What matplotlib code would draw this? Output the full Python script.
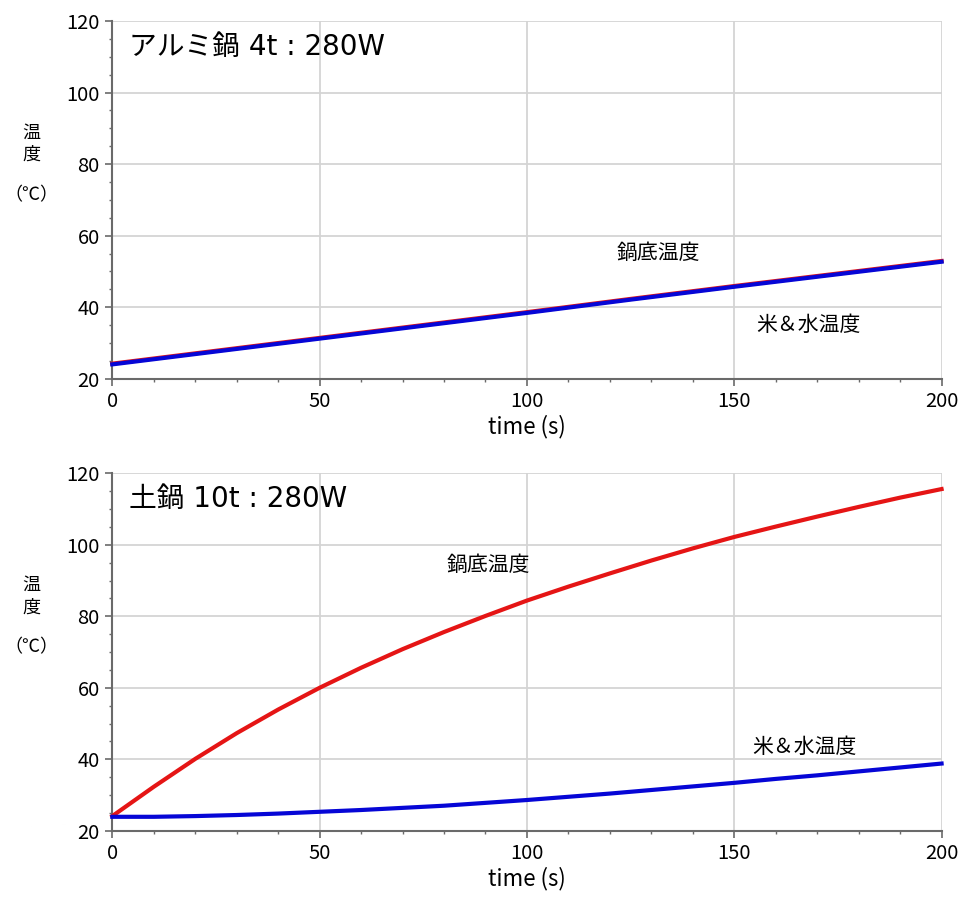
import matplotlib
matplotlib.use("Agg")
import numpy as np
import matplotlib.pyplot as plt
from matplotlib.ticker import MultipleLocator

plt.rcParams['font.family'] = ['Noto Sans CJK JP', 'DejaVu Sans']

# ==================== データ ====================
# 上段：アルミ鍋 4t
t_top = [0, 25, 50, 75, 100, 125, 150, 175, 200]
pot_top = [24.2, 27.8, 31.4, 35.0, 38.6, 42.3, 45.9, 49.4, 52.9]     # 鍋底温度
rice_top = [24.0, 27.6, 31.2, 34.8, 38.4, 42.1, 45.7, 49.2, 52.7]    # 米&水温度

# 下段：土鍋 10t
t_bot = [0, 10, 20, 30, 40, 50, 60, 70, 80, 90, 100,
         110, 120, 130, 140, 150, 160, 170, 180, 190, 200]
pot_bot = [24.1, 32.3, 40.1, 47.3, 53.9, 60.0, 65.6, 70.8, 75.6, 80.1, 84.4,
           88.3, 92.0, 95.6, 99.0, 102.2, 105.1, 107.9, 110.6, 113.2, 115.6]
rice_bot = [23.9, 23.9, 24.1, 24.4, 24.8, 25.3, 25.8, 26.4, 27.0, 27.8, 28.6,
            29.5, 30.4, 31.4, 32.4, 33.4, 34.5, 35.5, 36.6, 37.7, 38.8]

titles = ['アルミ鍋 4t : 280W', '土鍋 10t : 280W']
# 系列ラベル位置（データ座標）
label_pos = [((131.6, 55.1), (167.8, 35.0)),
             ((90.8, 94.3), (167.0, 43.4))]

RED = '#e51515'
BLUE = '#0606d6'
GRID = '#d4d4d4'
SPINE = '#6a6a6a'

# ==================== 図 ====================
fig = plt.figure(figsize=(9.69, 8.98), dpi=100)
ax_top = fig.add_axes([0.1159, 0.5783, 0.8558, 0.3983])
ax_bot = fig.add_axes([0.1159, 0.0749, 0.8558, 0.3980])

datasets = [(t_top, pot_top, rice_top), (t_bot, pot_bot, rice_bot)]

for ax, (tt, pot, rice), title, (p1, p2) in zip([ax_top, ax_bot], datasets, titles, label_pos):
    ax.plot(tt, pot, color=RED, linewidth=3.0, zorder=3, clip_on=False)
    ax.plot(tt, rice, color=BLUE, linewidth=3.0, zorder=4, clip_on=False)

    ax.set_xlim(0, 200)
    ax.set_ylim(20, 120)
    ax.xaxis.set_major_locator(MultipleLocator(50))
    ax.xaxis.set_minor_locator(MultipleLocator(10))
    ax.yaxis.set_major_locator(MultipleLocator(20))
    ax.yaxis.set_minor_locator(MultipleLocator(5))

    ax.grid(True, which='major', color=GRID, linewidth=1.3)
    ax.set_axisbelow(True)

    ax.spines['top'].set_visible(False)
    ax.spines['right'].set_visible(False)
    for s in ['left', 'bottom']:
        ax.spines[s].set_color(SPINE)
        ax.spines[s].set_linewidth(1.5)

    ax.tick_params(which='major', direction='out', length=5, width=1.2,
                   color=SPINE, labelsize=14.5, pad=4)
    ax.tick_params(which='minor', direction='out', length=2.5, width=1.0,
                   color=SPINE)

    ax.set_xlabel('time (s)', fontsize=16)
    ax.xaxis.set_label_coords(0.5, -0.134)
    ax.xaxis.label.set_va('center')

    # 縦書き風の軸ラベル
    ax.text(-0.098, 0.687, '温', transform=ax.transAxes, fontsize=13,
            ha='center', va='center')
    ax.text(-0.098, 0.625, '度', transform=ax.transAxes, fontsize=13,
            ha='center', va='center')
    ax.text(-0.098, 0.514, '（℃）', transform=ax.transAxes, fontsize=13,
            ha='center', va='center')

    ax.text(0.0205, 0.928, title, transform=ax.transAxes, fontsize=20,
            family=['DejaVu Sans', 'Noto Sans CJK JP'], ha='left', va='center')

    ax.text(p1[0], p1[1], '鍋底温度', fontsize=15, ha='center', va='center')
    ax.text(p2[0], p2[1], '米＆水温度', fontsize=15, ha='center', va='center')

fig.savefig('out.png', dpi=100, facecolor='white')
